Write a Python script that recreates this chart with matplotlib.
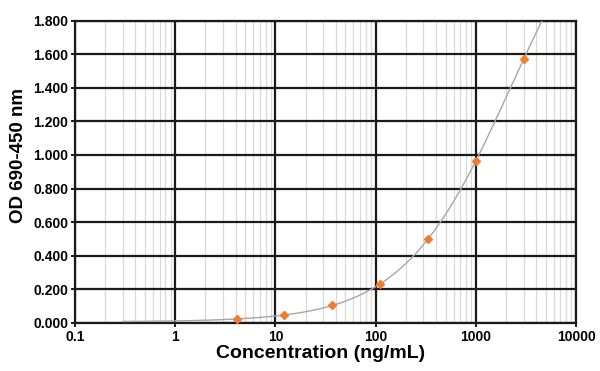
import numpy as np
import matplotlib
matplotlib.use('Agg')
import matplotlib.pyplot as plt
from matplotlib.ticker import FixedLocator, LogLocator, NullFormatter

# standard curve readings
conc = [4.1, 12.3, 37.0, 111.0, 333.0, 1000.0, 3000.0]
od = [0.024, 0.044, 0.104, 0.231, 0.500, 0.964, 1.571]

x_ticks = [0.1, 1, 10, 100, 1000, 10000]
x_tick_labels = ['0.1', '1', '10', '100', '1000', '10000']
y_ticks = [0.0, 0.2, 0.4, 0.6, 0.8, 1.0, 1.2, 1.4, 1.6, 1.8]


def fit_4pl(x, y):
    """crude 4PL fit: grid over slope/midpoint, linear solve for bottom/top"""
    x = np.asarray(x)
    y = np.asarray(y)
    best = None
    for b in np.linspace(0.5, 2.0, 151):
        for logc in np.linspace(2.0, 5.0, 301):
            u = (x / 10**logc)**b
            A = np.column_stack([1 / (1 + u), u / (1 + u)])
            coef, res, _, _ = np.linalg.lstsq(A, y, rcond=None)
            err = np.sum((A @ coef - y)**2)
            if best is None or err < best[0]:
                best = (err, coef[0], coef[1], b, 10**logc)
    return best[1:]


def main():
    plt.rcParams['font.family'] = ['Liberation Sans', 'DejaVu Sans']

    fig = plt.figure(figsize=(6.0, 3.71), dpi=100)
    ax = fig.add_axes([0.125, 0.130, 0.835, 0.814])

    ax.set_xscale('log')
    ax.set_xlim(0.1, 10000)
    ax.set_ylim(0, 1.8)

    # fitted curve
    a, d, b, c = fit_4pl(conc, od)
    xs = np.logspace(np.log10(0.3), 4, 400)
    ys = d + (a - d) / (1 + (xs / c)**b)
    ax.plot(xs, ys, color='#a6a6a6', lw=1.0, zorder=3)

    ax.plot(conc, od, ls='none', marker='D', ms=3.8, color='#f07c2e',
            mec='#f07c2e', zorder=4)

    ax.xaxis.set_major_locator(FixedLocator(x_ticks))
    ax.set_xticklabels(x_tick_labels)
    ax.xaxis.set_minor_locator(LogLocator(base=10, subs=np.arange(2, 10), numticks=20))
    ax.xaxis.set_minor_formatter(NullFormatter())
    ax.set_yticks(y_ticks)
    ax.set_yticklabels(['{:.3f}'.format(v) for v in y_ticks])

    ax.grid(which='major', color='#1a1a1a', lw=1.6, zorder=1)
    ax.grid(which='minor', axis='x', color='#d9d9d9', lw=0.9, zorder=0)
    ax.set_axisbelow(True)

    for sp in ax.spines.values():
        sp.set_color('#1a1a1a')
        sp.set_linewidth(1.6)

    ax.tick_params(which='major', length=3, width=1.4, color='#1a1a1a',
                   labelsize=10, pad=2)
    ax.tick_params(which='minor', length=0)
    for lab in ax.get_xticklabels() + ax.get_yticklabels():
        lab.set_fontweight('bold')

    ax.set_xlabel('Concentration (ng/mL)', fontsize=14, fontweight='bold', labelpad=1)
    ax.set_ylabel('OD 690-450 nm', fontsize=13.5, fontweight='bold')
    ax.xaxis.set_label_coords(0.491, -0.075)
    ax.yaxis.set_label_coords(-0.096, 0.554)

    fig.savefig('out.png', dpi=100, facecolor='white')


if __name__ == '__main__':
    main()
